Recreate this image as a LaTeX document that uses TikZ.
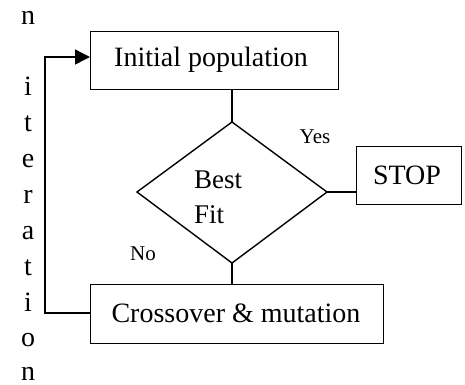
\documentclass[tikz,border=0pt]{standalone}
\usepackage{fontspec}
\setmainfont{Liberation Serif}
\usetikzlibrary{arrows.meta}
\begin{document}
\begin{tikzpicture}[x=1pt,y=-1pt,
  box/.style={draw,line width=1.4pt,inner sep=0pt,anchor=north west},
  lbl/.style={inner sep=0pt,font=\fontsize{28}{30}\selectfont},
  small/.style={inner sep=0pt,font=\fontsize{21}{24}\selectfont},
  conn/.style={line width=1.4pt}]
\useasboundingbox (0,0) rectangle (465,384);
% boxes
\node[box,minimum width=248pt,minimum height=58pt] (init) at (90,31) {};
\node[lbl] (initt) at (211,60) {Initial population};
\node[box,minimum width=105pt,minimum height=58pt] (stop) at (356,146) {};
\node[lbl] (stopt) at (407,175) {STOP};
\node[box,minimum width=293pt,minimum height=59pt] (cross) at (90,284) {};
\node[lbl] (crosst) at (236,313) {Crossover \& mutation};
% diamond
\coordinate (dt) at (232,122);
\coordinate (dr) at (327,192);
\coordinate (db) at (232,263);
\coordinate (dl) at (137,192);
\draw[conn,line join=miter] (dt) -- (dr) -- (db) -- (dl) -- cycle;
\node[lbl,font=\fontsize{27}{28}\selectfont,anchor=base west] (best) at (194,188) {Best};
\node[lbl,font=\fontsize{27}{28}\selectfont,anchor=base west] (fit) at (194,223) {Fit};
% labels
\node[small,anchor=base] (yes) at (315,143) {Yes};
\node[small,anchor=base] (no) at (143,260) {No};
% connectors
\draw[conn] (init.south -| dt) -- (dt);
\draw[conn] (dr) -- (stop.west |- dr);
\draw[conn] (db) -- (cross.north -| db);
\coordinate (lb) at (45,313);
\coordinate (lt) at (45,57);
\draw[conn,-{Triangle[length=15pt,width=15pt]}] (cross.west |- lb) -- (lb) -- (lt) -- (init.west |- lt);
% vertical text
\foreach \ch/\yy [count=\i] in {n/24, i/95, t/131, e/167, r/203, a/239, t/275, i/311, o/346, n/380}{
  \node[lbl,anchor=base] (v\i) at (28,\yy) {\ch};
}
\end{tikzpicture}
\end{document}
